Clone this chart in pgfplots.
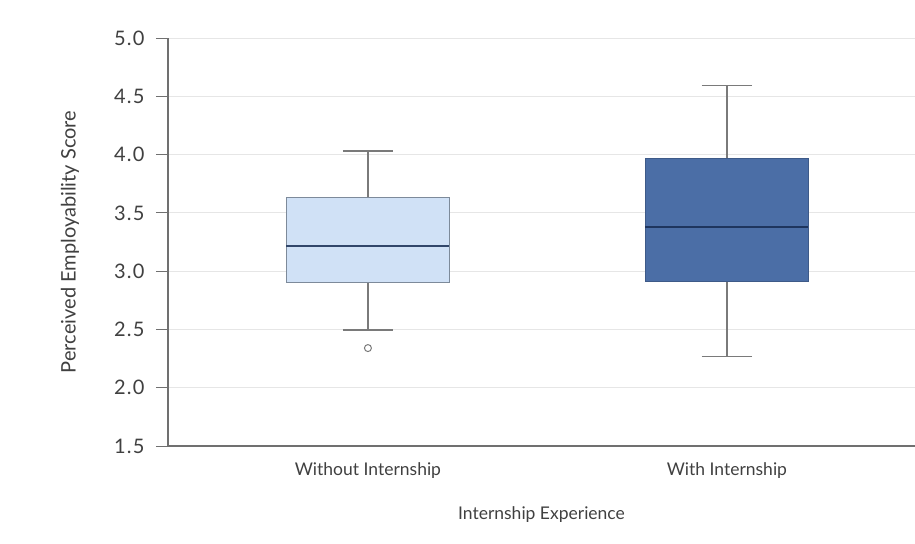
\documentclass[border=0pt]{standalone}
\usepackage{pgfplots}
\pgfplotsset{compat=1.18}
\usepgfplotslibrary{statistics}
\usepackage{fontspec}
\setmainfont{Lato}
\definecolor{txt}{HTML}{404040}
\definecolor{axc}{HTML}{707070}
\definecolor{gridc}{HTML}{E6E6E6}
\definecolor{boxA}{HTML}{D0E1F6}
\definecolor{boxAline}{HTML}{7D8A9A}
\definecolor{boxB}{HTML}{4B6EA6}
\definecolor{boxBline}{HTML}{3E5A88}
\definecolor{medB}{HTML}{1E355E}
\definecolor{whisk}{HTML}{7A7A7A}
\begin{document}
\begin{tikzpicture}
\useasboundingbox (-168bp,-98bp) rectangle (747bp,446bp);
\begin{axis}[
  scale only axis,
  width=747bp, height=408bp,
  xmin=0.443, xmax=2.524,
  ymin=1.5, ymax=5.0,
  ytick={1.5,2.0,2.5,3.0,3.5,4.0,4.5,5.0},
  y tick label style={/pgf/number format/fixed, /pgf/number format/fixed zerofill, /pgf/number format/precision=1, xshift=-8bp, font=\fontsize{20bp}{23bp}\selectfont\addfontfeatures{LetterSpace=6}},
  /pgf/number format/assume math mode=true,
  xtick={1,2},
  xticklabels={Without Internship, With Internship},
  major x tick style={draw=none},
  axis x line*=bottom,
  axis y line*=left,
  axis line style={draw=axc, line width=1.2pt},
  y axis line style={-},
  x axis line style={-},
  tick style={draw=axc, line width=1pt},
  tick align=outside,
  major tick length=12bp,
  ymajorgrids,
  grid style={gridc, line width=0.8pt},
  tick label style={text=txt},
  x tick label style={font=\fontsize{17.5bp}{20bp}\selectfont, yshift=-1bp},
  xlabel={Internship Experience},
  ylabel={Perceived Employability Score},
  xlabel style={font=\fontsize{17.5bp}{20bp}\selectfont, text=txt, at={(axis description cs:0.5,0)}, anchor=center, yshift=-69bp},
  ylabel style={font=\fontsize{20bp}{23bp}\selectfont, text=txt, at={(axis description cs:-0.1312,0.5)}, anchor=center},
  boxplot/draw direction=y,
  clip=false,
]
\addplot+[
  boxplot prepared={
    draw position=1,
    lower whisker=2.495, lower quartile=2.90,
    median=3.215,
    upper quartile=3.63, upper whisker=4.03,
    box extend=0.454, whisker extend=0.14,
  },
  solid, draw=boxAline, line width=1.2pt, fill=boxA,
  boxplot/every whisker/.style={draw=whisk, line width=1.3pt},
  boxplot/every median/.style={draw=medB!80!boxAline, line width=1.6pt},
  mark=o, mark size=3.5bp, mark options={draw=whisk, line width=1pt, fill=none},
] coordinates {(0,2.34)};
\addplot+[
  boxplot prepared={
    draw position=2,
    lower whisker=2.27, lower quartile=2.915,
    median=3.38,
    upper quartile=3.97, upper whisker=4.59,
    box extend=0.454, whisker extend=0.14,
  },
  solid, draw=boxBline, line width=1pt, fill=boxB,
  boxplot/every whisker/.style={draw=whisk, line width=1.3pt},
  boxplot/every median/.style={draw=medB, line width=1.6pt},
  mark=none,
] coordinates {};
\end{axis}
\end{tikzpicture}
\end{document}
